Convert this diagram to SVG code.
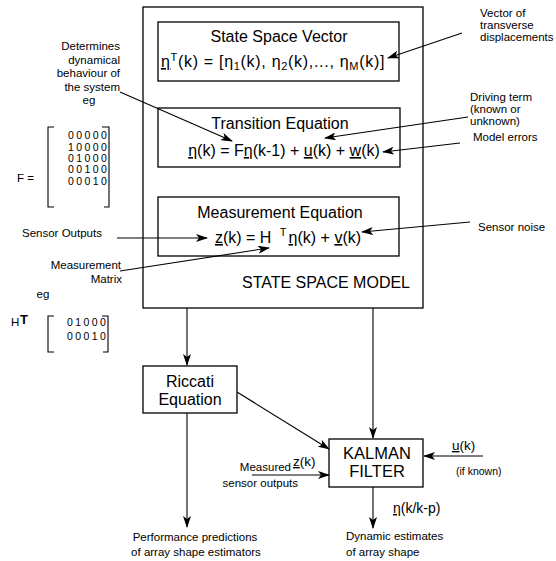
<svg xmlns="http://www.w3.org/2000/svg" width="556" height="561" viewBox="0 0 556 561">
<defs>
<marker id="ah" viewBox="0 0 12 8" refX="11" refY="4" markerWidth="12" markerHeight="8" markerUnits="userSpaceOnUse" orient="auto">
<path d="M0,0 L12,4 L0,8 L3,4 Z" fill="#000"/>
</marker>
<style>
.box{fill:#fff;stroke:#000;stroke-width:1.3}
.ln{fill:none;stroke:#000;stroke-width:1.1}
.ar{fill:none;stroke:#000;stroke-width:1.1;marker-end:url(#ah)}
text{font-family:"Liberation Sans",Arial,sans-serif;fill:#000}
.t16{font-size:16px}
.eq{font-size:16px}
.lab{font-size:11.5px}
.mat{font-size:10.5px;letter-spacing:2.4px}
.u{text-decoration:underline}
</style>
</defs>
<rect width="556" height="561" fill="#fff"/>

<g id="state-space-model">
<rect class="box" x="143" y="7" width="280" height="301"/>
<text class="t16" x="410" y="288" text-anchor="end">STATE SPACE MODEL</text>
</g>

<g id="state-space-vector">
<rect class="box" x="158" y="22" width="241" height="59"/>
<text class="t16" x="279" y="42" text-anchor="middle">State Space Vector</text>
<text class="eq" x="273" y="67" text-anchor="middle" letter-spacing="0.7"><tspan class="u">η</tspan><tspan dy="-6" font-size="11">T</tspan><tspan dy="6">(k) = [η</tspan><tspan dy="3" font-size="11">1</tspan><tspan dy="-3">(k), η</tspan><tspan dy="3" font-size="11">2</tspan><tspan dy="-3">(k),..., η</tspan><tspan dy="3" font-size="11">M</tspan><tspan dy="-3">(k)]</tspan></text>
</g>

<g id="transition-equation">
<rect class="box" x="158" y="108" width="242" height="59"/>
<text class="t16" x="280" y="129" text-anchor="middle">Transition Equation</text>
<text class="eq" x="284" y="156" text-anchor="middle"><tspan class="u">η</tspan>(k) = F<tspan class="u">η</tspan>(k-1) + <tspan class="u">u</tspan>(k) + <tspan class="u">w</tspan>(k)</text>
</g>

<g id="measurement-equation">
<rect class="box" x="158" y="197" width="241" height="59"/>
<text class="t16" x="280" y="218" text-anchor="middle">Measurement Equation</text>
<text class="eq" x="288" y="243" text-anchor="middle"><tspan class="u">z</tspan>(k) = H <tspan dx="4" dy="-7" font-size="11">T</tspan><tspan dx="2" dy="7" class="u">η</tspan>(k) + <tspan class="u">v</tspan>(k)</text>
</g>

<g id="riccati-equation">
<rect class="box" x="143" y="366" width="94" height="47"/>
<text class="t16" x="190" y="387" text-anchor="middle">Riccati</text>
<text class="t16" x="190" y="405" text-anchor="middle">Equation</text>
</g>

<g id="kalman-filter">
<rect class="box" x="329" y="439" width="94" height="48"/>
<text font-size="16.5" x="377" y="459" text-anchor="middle">KALMAN</text>
<text font-size="16.5" x="377" y="477" text-anchor="middle">FILTER</text>
</g>

<g id="annotations">
<text class="lab" x="120" y="50" text-anchor="end">Determines</text>
<text class="lab" x="120" y="64" text-anchor="end">dynamical</text>
<text class="lab" x="120" y="77" text-anchor="end">behaviour of</text>
<text class="lab" x="120" y="91" text-anchor="end">the system</text>
<text class="lab" x="89" y="104" text-anchor="middle">eg</text>

<text class="lab" x="17" y="182">F =</text>
<path class="ln" d="M54,127 H48 V207 H54 M102,127 H109 V207 H104"/>
<text class="mat" x="68" y="139">00000</text>
<text class="mat" x="68" y="151">10000</text>
<text class="mat" x="68" y="162">01000</text>
<text class="mat" x="68" y="173">00100</text>
<text class="mat" x="68" y="185">00010</text>

<text class="lab" x="22" y="237">Sensor Outputs</text>
<text class="lab" x="121" y="269" text-anchor="end">Measurement</text>
<text class="lab" x="122" y="283" text-anchor="end">Matrix</text>
<text class="lab" x="43" y="298" text-anchor="middle">eg</text>

<text class="lab" x="11" y="326">H</text>
<text font-size="13" x="20" y="324" font-weight="bold">T</text>
<path class="ln" d="M54,316 H48 V352 H54 M102,316 H108 V352 H103"/>
<text class="mat" x="67" y="326">01000</text>
<text class="mat" x="67" y="340">00010</text>

<text class="lab" x="480" y="17">Vector of</text>
<text class="lab" x="480" y="29">transverse</text>
<text class="lab" x="480" y="41">displacements</text>

<text class="lab" x="470" y="101">Driving term</text>
<text class="lab" x="470" y="113">(known or</text>
<text class="lab" x="470" y="125">unknown)</text>

<text class="lab" x="473" y="141">Model errors</text>
<text class="lab" x="478" y="231">Sensor noise</text>

<text class="lab" x="195" y="541" text-anchor="middle">Performance predictions</text>
<text class="lab" x="196" y="556" text-anchor="middle">of array shape estimators</text>

<text class="lab" x="291" y="471" text-anchor="end">Measured</text>
<text class="lab" x="298" y="487" text-anchor="end">sensor outputs</text>
<text font-size="13.5" x="293" y="466"><tspan class="u">z</tspan>(k)</text>

<text font-size="13.5" x="452" y="450"><tspan class="u">u</tspan>(k)</text>
<text font-size="10.5" x="456" y="475">(if known)</text>

<text font-size="14" x="393" y="513"><tspan class="u">η</tspan>(k/k-p)</text>

<text class="lab" x="346" y="540">Dynamic estimates</text>
<text class="lab" x="346" y="556">of array shape</text>
</g>

<g id="connectors">
<line class="ar" x1="120" y1="92" x2="232" y2="141"/>
<line class="ar" x1="462" y1="33" x2="388" y2="58"/>
<line class="ar" x1="468" y1="117" x2="325" y2="138"/>
<line class="ar" x1="460" y1="143" x2="383" y2="152"/>
<line class="ar" x1="470" y1="222" x2="362" y2="232"/>
<line class="ar" x1="117" y1="238" x2="207" y2="238"/>
<line class="ar" x1="120" y1="271" x2="269" y2="248"/>
<line class="ar" x1="187" y1="308" x2="187" y2="365"/>
<line class="ar" x1="187" y1="413" x2="187" y2="527"/>
<line class="ar" x1="237" y1="392" x2="329" y2="449"/>
<line class="ar" x1="373" y1="308" x2="373" y2="438"/>
<line class="ar" x1="252" y1="475" x2="329" y2="475"/>
<line class="ar" x1="483" y1="456" x2="424" y2="456"/>
<line class="ar" x1="373" y1="487" x2="373" y2="528"/>
</g>
</svg>
